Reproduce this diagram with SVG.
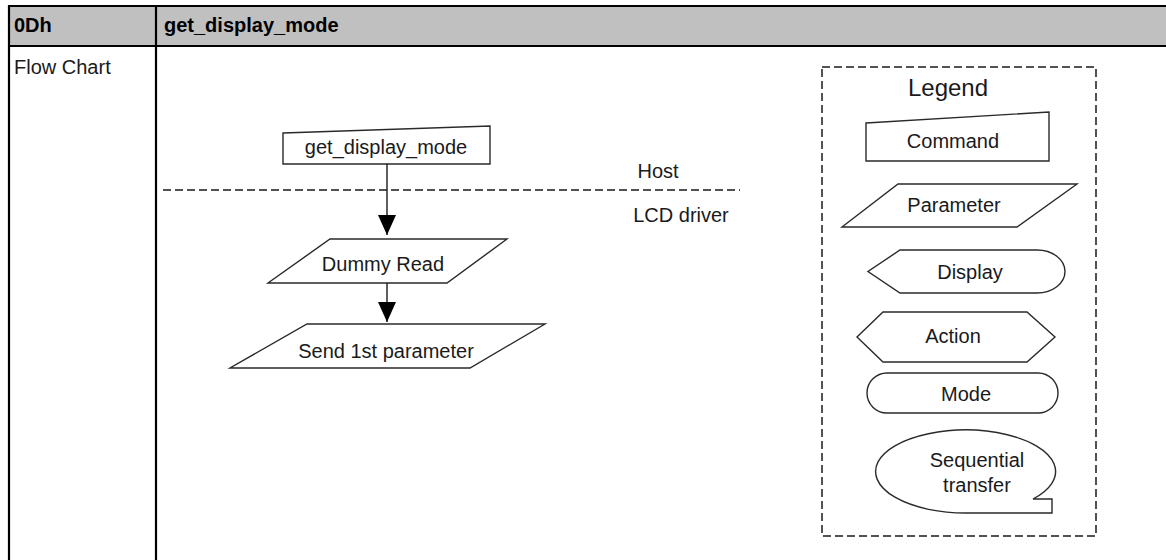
<svg xmlns="http://www.w3.org/2000/svg" width="1166" height="560" viewBox="0 0 1166 560">
<style>
  .t { font-family: "Liberation Sans", Arial, sans-serif; font-size: 20px; fill: #1a1a1a; }
  .b { font-weight: bold; fill: #000; }
  .c { text-anchor: middle; }
  .shape { fill: #fff; stroke: #2a2a2a; stroke-width: 1.4; stroke-linejoin: miter; }
  .tbl { stroke: #000; stroke-width: 2.2; fill: none; }
  .conn { stroke: #1a1a1a; stroke-width: 1.4; fill: none; }
  .dash { stroke: #1a1a1a; stroke-width: 1.5; fill: none; stroke-dasharray: 8 4; }
</style>
<defs>
  <marker id="arrow" viewBox="0 0 20 18" refX="20" refY="9" markerWidth="20" markerHeight="18" markerUnits="userSpaceOnUse" orient="auto">
    <path d="M0,0 L20,9 L0,18 Z" fill="#000"/>
  </marker>
</defs>
<rect width="1166" height="560" fill="#fff"/>
<g id="table">
  <rect x="9" y="6" width="1160" height="40" fill="#c0c0c0"/>
  <line class="tbl" x1="8" y1="6" x2="1166" y2="6"/>
  <line class="tbl" x1="8" y1="46" x2="1166" y2="46"/>
  <line class="tbl" x1="9" y1="5" x2="9" y2="560"/>
  <line class="tbl" x1="156" y1="5" x2="156" y2="560"/>
  <text class="t b" x="14" y="32">0Dh</text>
  <text class="t b" x="164" y="32">get_display_mode</text>
  <text class="t" x="14" y="74">Flow Chart</text>
</g>
<g id="host-divider">
  <line class="dash" x1="163" y1="190" x2="740" y2="190"/>
  <text class="t c" x="658" y="178">Host</text>
  <text class="t c" x="681" y="222">LCD driver</text>
</g>
<g id="node-command">
  <polygon class="shape" points="283,133 490,126 490,164 283,164"/>
  <text class="t c" x="386" y="154">get_display_mode</text>
</g>
<g id="node-dummy-read">
  <polygon class="shape" points="330,239 507,239 447,283 268,283"/>
  <text class="t c" x="383" y="271">Dummy Read</text>
</g>
<g id="node-send-param">
  <polygon class="shape" points="307,324 545,324 470,368 230,368"/>
  <text class="t c" x="386" y="358">Send 1st parameter</text>
</g>
<g id="connectors">
  <line class="conn" x1="387" y1="164" x2="387" y2="235" marker-end="url(#arrow)"/>
  <line class="conn" x1="387" y1="283" x2="387" y2="322" marker-end="url(#arrow)"/>
</g>
<g id="legend">
  <rect x="822" y="67" width="274" height="469" class="dash" stroke-dasharray="7 4"/>
  <text class="t c" x="948" y="96" style="font-size:24px">Legend</text>
  <g id="legend-command">
    <polygon class="shape" points="866,123 1049,112 1049,161 866,161"/>
    <text class="t c" x="953" y="148">Command</text>
  </g>
  <g id="legend-parameter">
    <polygon class="shape" points="898,184 1077,184 1017,227 842,227"/>
    <text class="t c" x="954" y="212">Parameter</text>
  </g>
  <g id="legend-display">
    <path class="shape" d="M900,250 L1037,250 A28 21.5 0 0 1 1037,293 L900,293 L868,271.5 Z"/>
    <text class="t c" x="970" y="279">Display</text>
  </g>
  <g id="legend-action">
    <polygon class="shape" points="883,312 1027,312 1055,337 1027,362 883,362 857,337"/>
    <text class="t c" x="953" y="343">Action</text>
  </g>
  <g id="legend-mode">
    <rect class="shape" x="867" y="373" width="191" height="40" rx="20" ry="20"/>
    <text class="t c" x="966" y="401">Mode</text>
  </g>
  <g id="legend-sequential">
    <path class="shape" d="M966,513 A90 41.5 0 1 1 1033,499 L1052,499 L1052,513 Z"/>
    <text class="t c" x="977" y="467">Sequential</text>
    <text class="t c" x="977" y="492">transfer</text>
  </g>
</g>
</svg>
